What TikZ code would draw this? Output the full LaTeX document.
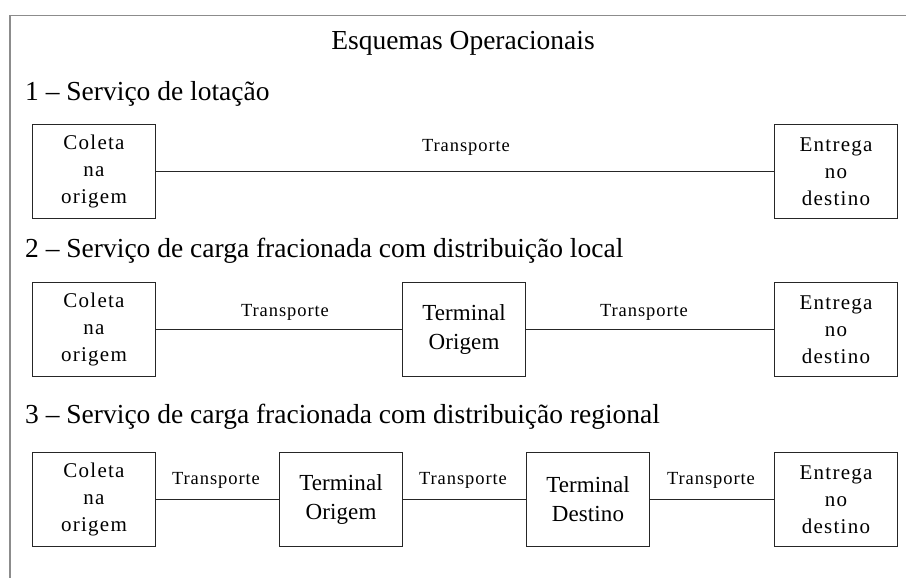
\documentclass[tikz,border=0pt]{standalone}
\usepackage{fontspec}
\setmainfont{Liberation Serif}
\newfontfamily\boxfont[LetterSpace=6]{Liberation Serif}
\newfontfamily\termfont[LetterSpace=0.5]{Liberation Serif}
\newfontfamily\lblfont[LetterSpace=5]{Liberation Serif}
\begin{document}
\begin{tikzpicture}[x=1pt,y=-1pt,
  box/.style={draw=black!85, line width=1.8pt, minimum width=123pt, minimum height=94pt, inner sep=0pt, align=center},
  txtthree/.style={font=\boxfont\fontsize{21}{27}\selectfont},
  txttwo/.style={font=\termfont\fontsize{23}{29}\selectfont},
  conn/.style={draw=black!85, line width=1.8pt},
  lbl/.style={font=\lblfont\fontsize{18.5}{20}\selectfont, anchor=base, inner sep=0pt},
  head/.style={font=\fontsize{27.5}{30}\selectfont, anchor=base west, inner sep=0pt},
  frameline/.style={draw=black!45, line width=1.5pt}]
\useasboundingbox[fill=white] (0,0) rectangle (906,578);
% frame
\coordinate (fTR) at (906,15.5);
\coordinate (fTL) at (10,15.5);
\coordinate (fBL) at (10,578);
\draw[frameline] (fTR) -- (fTL) -- (fBL);
% title and headings
\node[font=\fontsize{27.5}{30}\selectfont, anchor=base, inner sep=0pt] (title) at (463,50) {Esquemas Operacionais};
\node[head] (h1) at (25,100) {1 -- Serviço de lotação};
\node[head] (h2) at (25,257) {2 -- Serviço de carga fracionada com distribuição local};
\node[head] (h3) at (25,423) {3 -- Serviço de carga fracionada com distribuição regional};
% row 1
\node[box, txtthree] (a1) at (94,171.5) {Coleta\\na\\origem};
\node[box, txtthree] (a2) at (836,171.5) {Entrega\\no\\destino};
\draw[conn] (a1) -- (a2);
\node[lbl] (l1) at (466,151) {Transporte};
% row 2
\node[box, txtthree] (b1) at (94,329.5) {Coleta\\na\\origem};
\node[box, txttwo] (b2) at (464,329.5) {Terminal\\Origem};
\node[box, txtthree] (b3) at (836,329.5) {Entrega\\no\\destino};
\draw[conn] (b1) -- (b2);
\draw[conn] (b2) -- (b3);
\node[lbl] (l2a) at (285,316) {Transporte};
\node[lbl] (l2b) at (644,316) {Transporte};
% row 3
\node[box, txtthree] (c1) at (94,499.5) {Coleta\\na\\origem};
\node[box, txttwo] (c2) at (341,499.5) {Terminal\\Origem};
\node[box, txttwo] (c3) at (588,499.5) {Terminal\\Destino};
\node[box, txtthree] (c4) at (836,499.5) {Entrega\\no\\destino};
\draw[conn] (c1) -- (c2);
\draw[conn] (c2) -- (c3);
\draw[conn] (c3) -- (c4);
\node[lbl] (l3a) at (216,484.5) {Transporte};
\node[lbl] (l3b) at (463,484.5) {Transporte};
\node[lbl] (l3c) at (711,484.5) {Transporte};
\end{tikzpicture}
\end{document}
